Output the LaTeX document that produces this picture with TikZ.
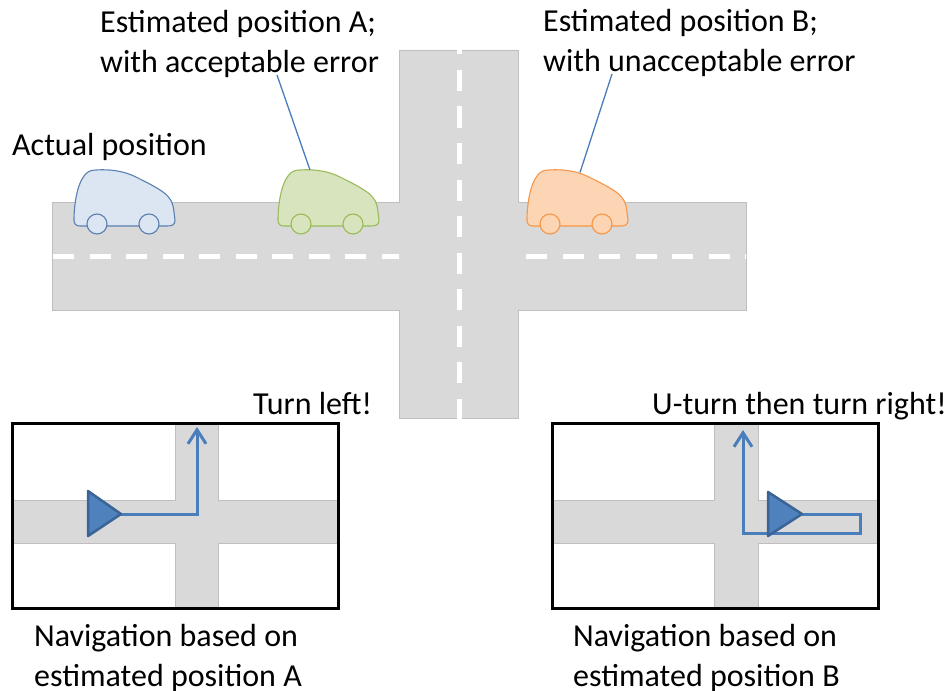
\documentclass[tikz,border=0pt]{standalone}
\usepackage{fontspec}
\setmainfont{Carlito}
\usetikzlibrary{arrows.meta}
\definecolor{roadgray}{HTML}{D9D9D9}
\definecolor{roadedge}{HTML}{BFBFBF}
\definecolor{navblue}{HTML}{4A7EBB}
\definecolor{navdark}{HTML}{3A6396}
\definecolor{navfill}{HTML}{4F81BD}
\definecolor{bluefill}{HTML}{DCE6F2}
\definecolor{bluedraw}{HTML}{5A7FB0}
\definecolor{greenfill}{HTML}{D7E4BD}
\definecolor{greendraw}{HTML}{9BBB59}
\definecolor{orangefill}{HTML}{FCD5B5}
\definecolor{orangedraw}{HTML}{F79646}
\tikzset{
  lbl/.style={anchor=base west, inner sep=0pt, font=\fontsize{32}{38}\selectfont},
  road/.style={fill=roadgray, draw=roadedge, line width=0.8pt},
  dashmark/.style={fill=white},
  callout/.style={draw=navblue, line width=1.3pt},
  navframe/.style={draw=black, line width=3pt},
  route/.style={draw=navblue, line width=3pt, line join=miter,
    -{Straight Barb[length=14pt, width=18pt, line width=3pt]}},
  pointer/.style={fill=navfill, draw=navdark, line width=2.5pt, line join=round},
  car/.pic={
    \filldraw[line width=1.1pt]
      (22,0) .. controls (36,-1) and (50,1) .. (62,7)
      .. controls (72,12) and (82,17) .. (89,22)
      .. controls (96,27) and (99,32) .. (100,42) -- (101,50)
      .. controls (101,55) and (98,56) .. (93,56) -- (6,56)
      .. controls (2,56) and (0,54) .. (0,50)
      .. controls (0,35) and (3,15) .. (10,6)
      .. controls (13,2) and (16,0) .. (22,0) -- cycle;
    \filldraw[line width=1.1pt] (23,54) circle[radius=10];
    \filldraw[line width=1.1pt] (75,54) circle[radius=10];
    \coordinate (-roof) at (32,0);
    \coordinate (-slope) at (53,2.5);
  }
}
\begin{document}
\begin{tikzpicture}[x=1pt, y=-1pt]
\useasboundingbox (0,0) rectangle (952,690);

% crossroads
\path[road] (399,50) -- (518,50) -- (518,202) -- (746,202) -- (746,310)
  -- (518,310) -- (518,418) -- (399,418) -- (399,310) -- (52,310)
  -- (52,202) -- (399,202) -- cycle;

% lane markings
\begin{scope}
  \clip (52,240) rectangle (399,270);
  \foreach \k in {0,...,9} \fill[dashmark] ({53+36.5*\k},254) rectangle ++(21,4.5);
\end{scope}
\begin{scope}
  \clip (518,240) rectangle (746,270);
  \foreach \k in {0,...,6} \fill[dashmark] ({526+36.5*\k},254) rectangle ++(21,4.5);
\end{scope}
\begin{scope}
  \clip (440,50) rectangle (480,418);
  \foreach \k in {0,...,10} \fill[dashmark] (457,{33.5+36.5*\k}) rectangle ++(4.5,21);
\end{scope}

% cars
\pic[fill=bluefill, draw=bluedraw] (actual) at (74,170) {car};
\pic[fill=greenfill, draw=greendraw] (estA) at (278,170) {car};
\pic[fill=orangefill, draw=orangedraw] (estB) at (527,170) {car};

% labels
\node[lbl] (actualT) at (12,155) {Actual position};
\node[lbl] (estA1) at (100,33) {Estimated position A;};
\node[lbl] (estA2) at (100,73) {with acceptable error};
\node[lbl] (estB1) at (543,32) {Estimated position B;};
\node[lbl] (estB2) at (543,72) {with unacceptable error};

\coordinate (tailA) at (277,75);
\coordinate (tailB) at (612,74);
\draw[callout] (tailA) -- (estA-roof);
\draw[callout] (tailB) -- (estB-slope);

% navigation view A
\node[lbl] (turnA) at (253,414) {Turn left!};
\begin{scope}
  \clip (12,423) rectangle (338,608);
  \path[road] (175,423) -- (218,423) -- (218,500) -- (338,500) -- (338,543)
    -- (218,543) -- (218,608) -- (175,608) -- (175,543) -- (12,543)
    -- (12,500) -- (175,500) -- cycle;
\end{scope}
\coordinate (tipA) at (121,514);
\coordinate (goalA) at (197,427);
\draw[route] (tipA) -| (goalA);
\draw[pointer] (88,491) -- (88,536) -- (tipA) -- cycle;
\draw[navframe] (12,423) rectangle (338,608);
\node[lbl] (capA1) at (34,646) {Navigation based on};
\node[lbl] (capA2) at (34,686) {estimated position A};

% navigation view B
\node[lbl] (turnB) at (652,414) {U-turn then turn right!};
\begin{scope}
  \clip (552,423) rectangle (878,608);
  \path[road] (714,423) -- (758,423) -- (758,500) -- (878,500) -- (878,543)
    -- (758,543) -- (758,608) -- (714,608) -- (714,543) -- (552,543)
    -- (552,500) -- (714,500) -- cycle;
\end{scope}
\coordinate (tipB) at (802,514);
\coordinate (bendB1) at (860,514);
\coordinate (bendB2) at (860,533);
\coordinate (bendB3) at (743,533);
\coordinate (goalB) at (743,430);
\draw[route] (tipB) -- (bendB1) -- (bendB2) -- (bendB3) -- (goalB);
\draw[pointer] (768,492) -- (768,536) -- (tipB) -- cycle;
\draw[navframe] (552,423) rectangle (878,608);
\node[lbl] (capB1) at (573,646) {Navigation based on};
\node[lbl] (capB2) at (573,686) {estimated position B};
\end{tikzpicture}
\end{document}
